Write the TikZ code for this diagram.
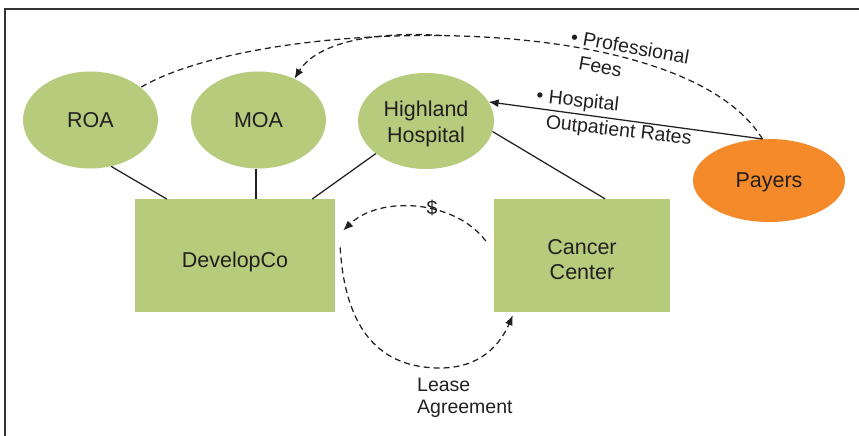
\documentclass[tikz,border=0pt]{standalone}
\usepackage{fontspec}
\setmainfont{Liberation Sans}
\usetikzlibrary{arrows.meta,shapes.geometric}
\definecolor{leaf}{HTML}{B6CC7C}
\definecolor{amber}{HTML}{F58A2B}
\definecolor{ink}{HTML}{231F20}
\tikzset{
  entity/.style={ellipse, fill=leaf, inner sep=0pt, minimum width=135pt,
    minimum height=97pt, text=ink, align=center,
    font=\fontsize{21.5}{25}\selectfont},
  block/.style={rectangle, fill=leaf, inner sep=0pt},
  boxtext/.style={text=ink, align=center, inner sep=0pt,
    font=\fontsize{21.5}{25.5}\selectfont},
  tie/.style={draw=ink, line width=1.25pt},
  dashline/.style={draw=ink, line width=1.25pt, dash pattern=on 6pt off 4pt},
  tip/.style={-{Latex[length=10pt,width=8pt]}},
  note/.style={text=ink, inner sep=0pt, align=left,
    font=\fontsize{19.5}{25}\selectfont},
  frameline/.style={draw=black!80, line width=1.6pt},
}
\begin{document}
\begin{tikzpicture}[x=1pt,y=-1pt]
\useasboundingbox (0,0) rectangle (859,436);

% outer frame (top and left edges)
\draw[frameline] (5,436) -- (5,9) -- (859,9);

% organisations
\node[entity] (roa) at (90.5,120) {ROA};
\node[entity] (moa) at (258.5,120) {MOA};
\node[entity, minimum width=136pt, minimum height=96pt,
  label={[boxtext,yshift=-3pt]center:Highland\\Hospital}] (hosp) at (426,121) {};
\node[entity, fill=amber, minimum width=152pt, minimum height=83pt,
  label={[boxtext,yshift=-2pt]center:Payers}] (payers) at (769,180.5) {};

\node[block, minimum width=200pt, minimum height=112.5pt,
  label={[boxtext,yshift=-6pt]center:DevelopCo}] (dev) at (235,255.5) {};
\node[block, minimum width=176pt, minimum height=113pt,
  label={[boxtext,yshift=-4pt]center:Cancer\\Center}] (cancer) at (582,255.5) {};

% ownership ties
\draw[tie] (roa.-66) -- ([xshift=32pt]dev.north west);
\draw[tie] (moa.-93) -- (moa.-93 |- dev.north);
\draw[tie] (hosp.213) -- ([xshift=-23pt]dev.north east);
\draw[tie] (hosp.-9) -- ([xshift=23pt]cancer.north);

% payments from payers
\draw[tie, tip] (payers.99) -- (hosp.17);
\draw[dashline] (payers.99) .. controls (680,4) and (260,17) .. (roa.33)
  coordinate[pos=0.53] (split);
\draw[dashline, tip] (split) .. controls (380,31) and (318,41) .. (moa.49);

% rent and lease between the two companies
\draw[dashline, tip] ([shift={(-8,-14.5)}]cancer.west)
  .. controls (455,200) and (380,195) .. ([shift={(8,-25)}]dev.east);
\draw[dashline, tip] ([shift={(5,-8)}]dev.east)
  .. controls (345,330) and (380,368) .. (440,368)
  .. controls (480,368) and (500,345) .. ([shift={(19,3)}]cancer.south west);

% labels
\node[note, rotate=-10] (feeslbl) at (634,60) {\llap{\textbullet\ }Professional\\Fees};
\node[note, rotate=-6.5] (ratelbl) at (620,119) {\llap{\textbullet\ }Hospital\\Outpatient Rates};
\node[note] (dollar) at (432,208) {\$};
\node[note, anchor=west, font=\fontsize{19.5}{22}\selectfont] (lease) at (417,398) {Lease\\Agreement};
\end{tikzpicture}
\end{document}
